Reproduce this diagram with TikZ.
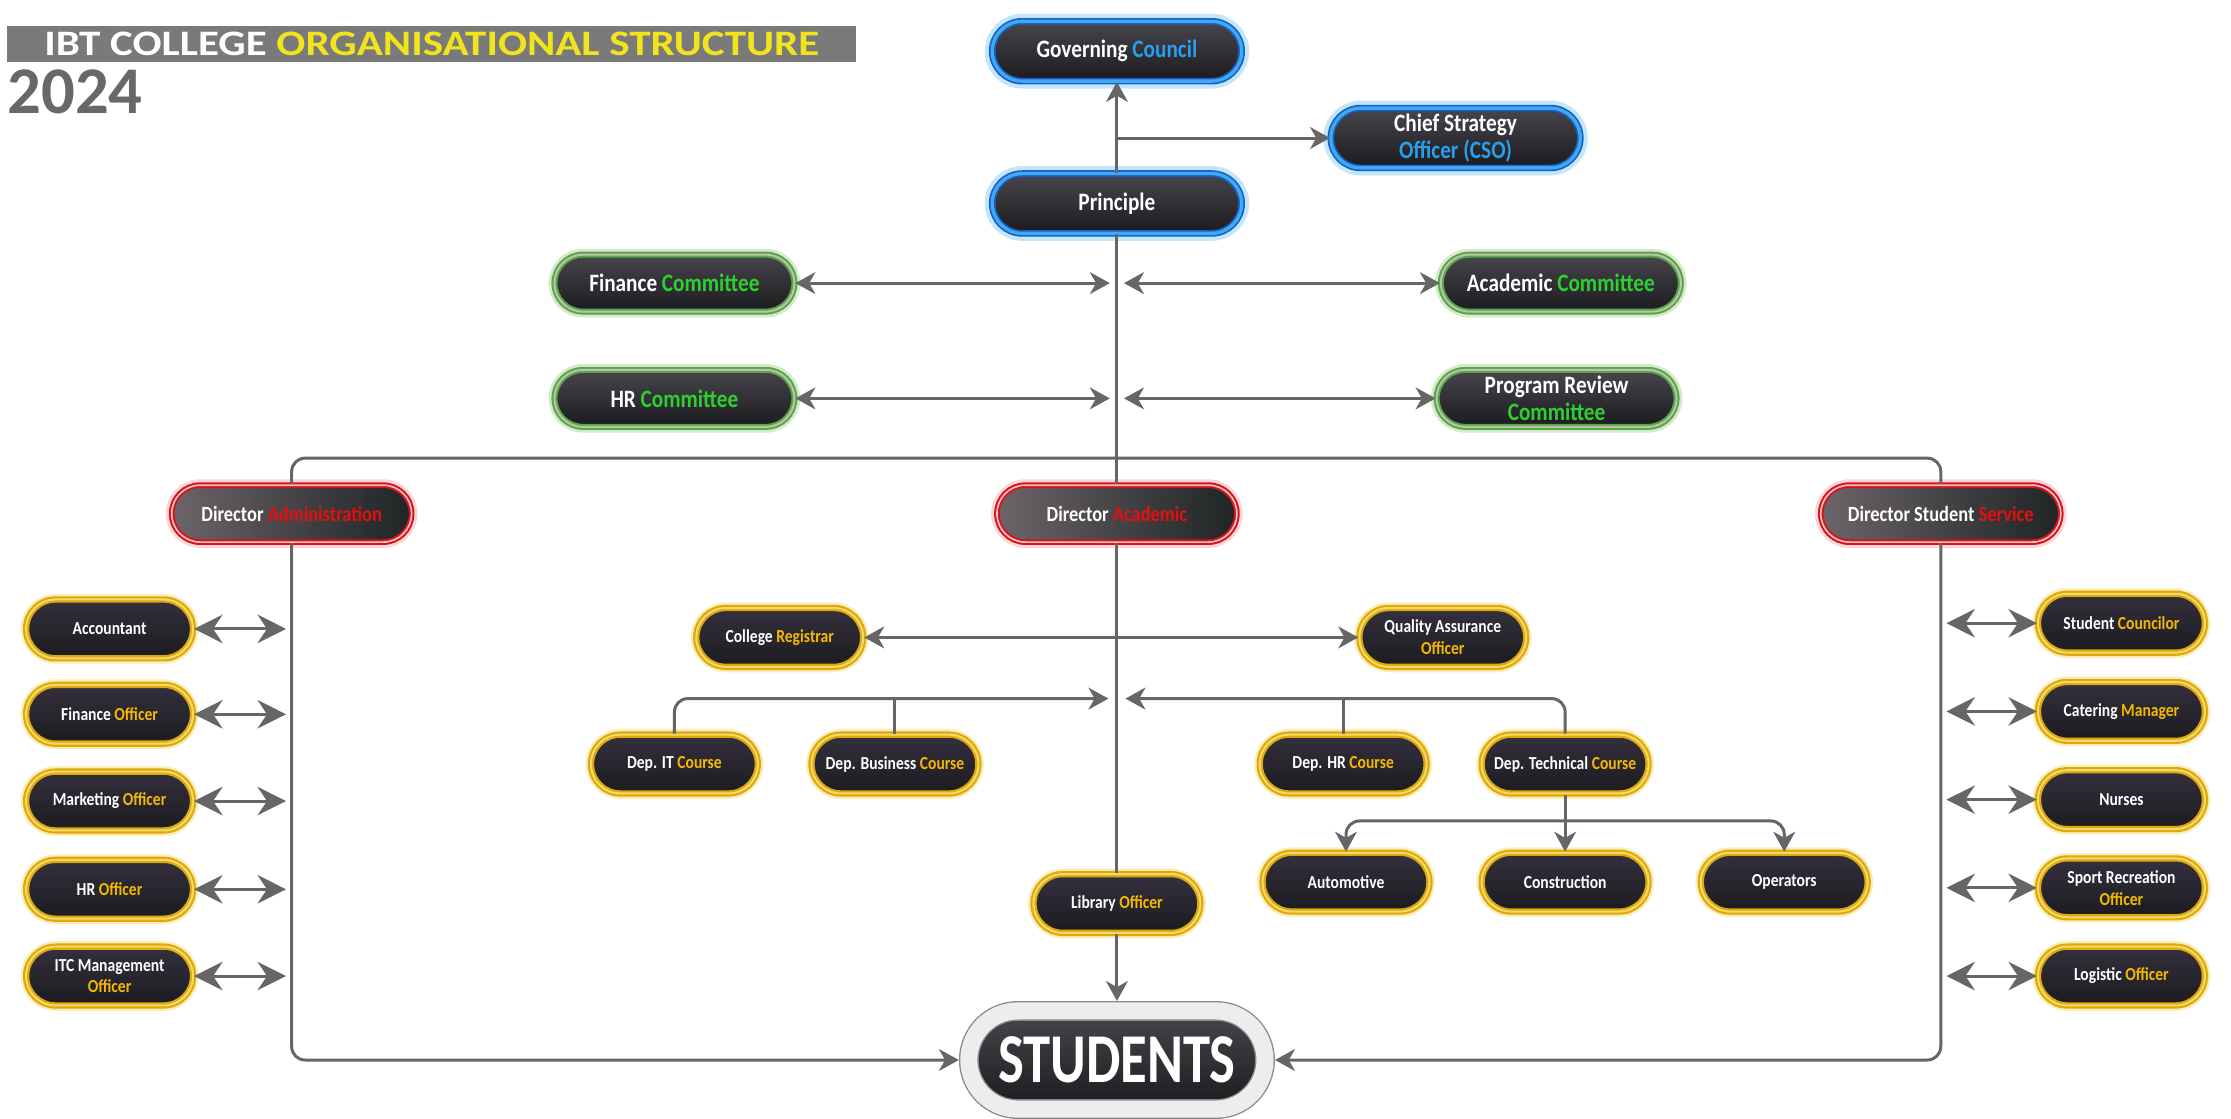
\documentclass[tikz,border=0pt]{standalone}
\usepackage{fontspec}
\newfontfamily\boxfont{Carlito}[FakeStretch=0.85]
\newfontfamily\studfont{Carlito}[FakeStretch=0.78]
\newfontfamily\titlefont{Carlito}[FakeStretch=1.2]
\newfontfamily\headfont{Carlito}
\usepackage{tikz}
\usetikzlibrary{positioning,arrows.meta,shapes.misc,calc}

\definecolor{linegray}{HTML}{666666}
\definecolor{boxtop}{HTML}{47464C}
\definecolor{boxbot}{HTML}{1B1A1E}
\definecolor{blueline}{HTML}{1C5DC4}
\definecolor{bluelight}{HTML}{3DAAF2}
\definecolor{blueglow}{HTML}{C4E6FB}
\definecolor{bluetext}{HTML}{2A9FF0}
\definecolor{greenline}{HTML}{5AA646}
\definecolor{greeninner}{HTML}{B9C4B0}
\definecolor{greenglow}{HTML}{D3EBC8}
\definecolor{greentext}{HTML}{2FCF2F}
\definecolor{redline}{HTML}{D6141E}
\definecolor{redinner}{HTML}{EBC3C3}
\definecolor{redglow}{HTML}{FAD6D6}
\definecolor{redtext}{HTML}{E80E0E}
\definecolor{dirleft}{HTML}{6C6469}
\definecolor{dirright}{HTML}{1F2424}
\definecolor{goldline}{HTML}{DDAA08}
\definecolor{goldinner}{HTML}{F4D870}
\definecolor{goldglow}{HTML}{FBEDB8}
\definecolor{goldtext}{HTML}{F5B800}
\definecolor{goldtop}{HTML}{34303E}
\definecolor{goldbot}{HTML}{1C1B1F}
\definecolor{titlegray}{HTML}{7A7A7A}
\definecolor{titleyellow}{HTML}{F2E41C}
\definecolor{yeargray}{HTML}{686868}
\definecolor{studring}{HTML}{8A8A8A}
\definecolor{studfill}{HTML}{EDEDED}

\newcommand{\bluetxt}[1]{\textcolor{bluetext}{#1}}
\newcommand{\greentxt}[1]{\textcolor{greentext}{#1}}
\newcommand{\redtxt}[1]{\textcolor{redtext}{#1}}
\newcommand{\goldtxt}[1]{\textcolor{goldtext}{#1}}

\tikzset{
	>={Stealth[length=4.2mm,width=4.6mm,inset=1.3mm]}, % big grey arrow heads
	link/.style={draw=linegray, line width=1.8pt}, % every connector
	sidearrow/.style={link, arrows={Stealth[length=6mm,width=6mm,inset=2mm]-Stealth[length=6mm,width=6mm,inset=2mm]}}, % short arrows of the side columns
	box/.style={rounded rectangle, text=white, align=center, inner sep=2pt, top color=boxtop, bottom color=boxbot},
	bluebox/.style={box, minimum width=54mm, minimum height=12.6mm, draw=blueline, line width=1pt, double=bluelight, double distance=2pt, preaction={draw=blueglow, line width=9pt}, font=\boxfont\bfseries\fontsize{15}{16.5}\selectfont},
	greenbox/.style={box, minimum width=52mm, minimum height=12mm, draw=greenline, line width=1.2pt, double=greeninner, double distance=1.2pt, preaction={draw=greenglow, line width=7pt}, font=\boxfont\bfseries\fontsize{15}{16.5}\selectfont},
	redbox/.style={box, left color=dirleft, right color=dirright, minimum width=52mm, minimum height=12mm, draw=redline, line width=1.2pt, double=redinner, double distance=1pt, preaction={draw=redglow, line width=7pt}, font=\boxfont\bfseries\fontsize{13}{15}\selectfont},
	goldbox/.style={box, top color=goldtop, bottom color=goldbot, minimum width=36.6mm, minimum height=12.4mm, draw=goldline, line width=1.3pt, double=goldinner, double distance=1.2pt, preaction={draw=goldglow, line width=6.5pt}, font=\boxfont\bfseries\fontsize{11}{13}\selectfont},
	studbox/.style={rounded rectangle, minimum width=64.8mm, minimum height=20.7mm, top color=boxtop, bottom color=boxbot, draw=studring, line width=0.8pt, double=studfill, double distance=3.6mm, outer sep=2.1mm, text=white, font=\studfont\bfseries\fontsize{42}{42}\selectfont},
	titlebar/.style={fill=titlegray, text=white, minimum width=179mm, minimum height=7.5mm, inner sep=0pt, font=\titlefont\bfseries\fontsize{21.5}{22}\selectfont},
	yearlabel/.style={text=yeargray, inner sep=0pt, font=\headfont\bfseries\fontsize{40}{40}\selectfont},
}

\begin{document}
\begin{tikzpicture}[x=0.3mm,y=-0.3mm]
	\path[use as bounding box, fill=white] (0,0) rectangle (1568,786);

	\node[titlebar, anchor=west] (title) at (5,31) {IBT COLLEGE \textcolor{titleyellow}{ORGANISATIONAL STRUCTURE}};
	\node[yearlabel, below=1.5mm of title.south west, anchor=north west] (year) {2024};

	% top of the college
	\node[bluebox] (gov) at (785,36) {Governing \bluetxt{Council}};
	\node[bluebox] (cso) at (1023,97) {Chief Strategy\\\bluetxt{Officer (CSO)}};
	\node[bluebox] (pri) at (785,143) {Principle};

	% committees
	\node[greenbox] (fin) at (474,199) {Finance \greentxt{Committee}};
	\node[greenbox] (aca) at (1097,199) {Academic \greentxt{Committee}};
	\node[greenbox] (hrc) at (474,280) {HR \greentxt{Committee}};
	\node[greenbox] (prc) at (1094,280) {Program Review\\\greentxt{Committee}};

	% directors
	\node[redbox] (adm) at (205,361) {Director \redtxt{Administration}};
	\node[redbox] (dac) at (785,361) {Director \redtxt{Academic}};
	\node[redbox] (dss) at (1364,361) {Director Student \redtxt{Service}};

	% administration staff
	\node[goldbox] (acc) at (77,442) {Accountant};
	\node[goldbox] (fio) at (77,502) {Finance \goldtxt{Officer}};
	\node[goldbox] (mko) at (77,563) {Marketing \goldtxt{Officer}};
	\node[goldbox] (hro) at (77,625) {HR \goldtxt{Officer}};
	\node[goldbox] (itc) at (77,686) {ITC Management\\\goldtxt{Officer}};

	% student service staff
	\node[goldbox] (stc) at (1491,438) {Student \goldtxt{Councilor}};
	\node[goldbox] (cat) at (1491,500) {Catering \goldtxt{Manager}};
	\node[goldbox] (nur) at (1491,562) {Nurses};
	\node[goldbox] (spo) at (1491,624) {Sport Recreation\\\goldtxt{Officer}};
	\node[goldbox] (lgo) at (1491,686) {Logistic \goldtxt{Officer}};

	% academic side
	\node[goldbox] (reg) at (548,448) {College \goldtxt{Registrar}};
	\node[goldbox] (qao) at (1014,448) {Quality Assurance\\\goldtxt{Officer}};
	\node[goldbox] (dit) at (474,537) {Dep. IT \goldtxt{Course}};
	\node[goldbox] (dbu) at (629,537) {Dep. Business \goldtxt{Course}};
	\node[goldbox] (dhr) at (944,537) {Dep. HR \goldtxt{Course}};
	\node[goldbox] (dte) at (1100,537) {Dep. Technical \goldtxt{Course}};
	\node[goldbox] (aut) at (946,620) {Automotive};
	\node[goldbox] (con) at (1100,620) {Construction};
	\node[goldbox] (ope) at (1254,620) {Operators};
	\node[goldbox] (lib) at (785,635) {Library \goldtxt{Officer}};

	\node[studbox] (stu) at (785,745) {STUDENTS};

	\coordinate (depL) at (779,491);
	\coordinate (depR) at (791,491);
	\coordinate (trade) at (1100,577);

	% main line
	\draw[link,<-] (gov.south) -- (pri.north);
	\draw[link] (pri.south) -- (dac.north);
	\draw[link] (dac.south) -- (lib.north);
	\draw[link,->] (lib.south) -- (stu.north);
	\draw[link,->] (gov.south |- cso.west) -- (cso.west);

	\draw[link,<->] (fin.east) -- ($(gov.south |- fin.east)+(-5,0)$);
	\draw[link,<->] ($(gov.south |- aca.west)+(5,0)$) -- (aca.west);
	\draw[link,<->] (hrc.east) -- ($(gov.south |- hrc.east)+(-5,0)$);
	\draw[link,<->] ($(gov.south |- prc.west)+(5,0)$) -- (prc.west);

	% directors and the way down to the students
	\draw[link,rounded corners=8] (adm.north) |- (dss.north |- 0,322) -- (dss.north);
	\draw[link,->,rounded corners=8] (adm.south) |- (stu.west);
	\draw[link,->,rounded corners=8] (dss.south) |- (stu.east);

	\draw[sidearrow] (acc.east) -- ($(adm.south |- acc.east)+(-4,0)$);
	\draw[sidearrow] (fio.east) -- ($(adm.south |- fio.east)+(-4,0)$);
	\draw[sidearrow] (mko.east) -- ($(adm.south |- mko.east)+(-4,0)$);
	\draw[sidearrow] (hro.east) -- ($(adm.south |- hro.east)+(-4,0)$);
	\draw[sidearrow] (itc.east) -- ($(adm.south |- itc.east)+(-4,0)$);

	\draw[sidearrow] ($(dss.south |- stc.west)+(4,0)$) -- (stc.west);
	\draw[sidearrow] ($(dss.south |- cat.west)+(4,0)$) -- (cat.west);
	\draw[sidearrow] ($(dss.south |- nur.west)+(4,0)$) -- (nur.west);
	\draw[sidearrow] ($(dss.south |- spo.west)+(4,0)$) -- (spo.west);
	\draw[sidearrow] ($(dss.south |- lgo.west)+(4,0)$) -- (lgo.west);

	% departments
	\draw[link,<->] (reg.east) -- (qao.west);
	\draw[link,->,rounded corners=8] (dit.north) |- (depL);
	\draw[link] (dbu.north) -- (dbu.north |- depL);
	\draw[link,->,rounded corners=8] (dte.north) |- (depR);
	\draw[link] (dhr.north) -- (dhr.north |- depR);

	\draw[link,->] (dte.south) -- (con.north);
	\draw[link,->,rounded corners=8] (trade) -| (aut.north);
	\draw[link,->,rounded corners=8] (trade) -| (ope.north);
\end{tikzpicture}
\end{document}
